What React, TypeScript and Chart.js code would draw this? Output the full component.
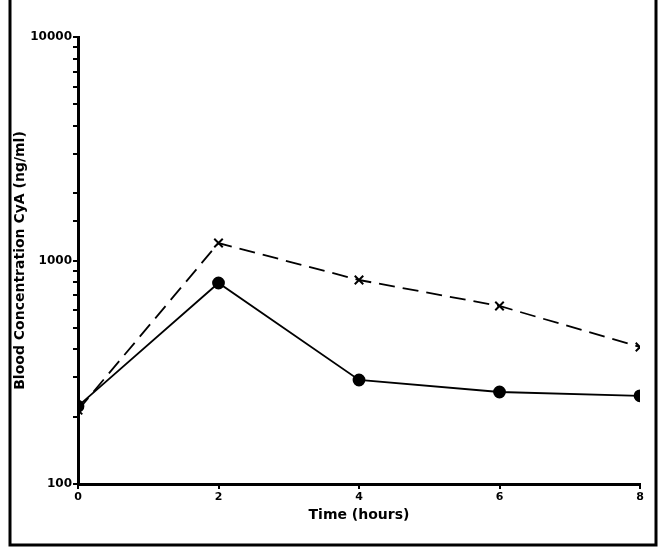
import React, { useEffect, useRef } from "react";
import { Chart, registerables } from "chart.js";
Chart.register(...registerables);

const times = [0, 2, 4, 6, 8];
const crossSeries = [214, 1197, 818, 626, 410];
const dotSeries = [223, 793, 292, 258, 248];
const yLabeledTicks = [100, 1000, 10000];
const xTickValues = [0, 2, 4, 6, 8];

const FONT = "'DejaVu Sans', sans-serif";

const framePlugin = {
  id: "frame",
  beforeDraw(chart: any) {
    const ctx = chart.ctx;
    ctx.save();
    ctx.fillStyle = "#ffffff";
    ctx.fillRect(0, 0, chart.width, chart.height);
    ctx.strokeStyle = "#000";
    ctx.lineWidth = 3;
    ctx.beginPath();
    ctx.moveTo(10, 0);
    ctx.lineTo(10, 545);
    ctx.lineTo(656, 545);
    ctx.lineTo(656, 0);
    ctx.stroke();
    ctx.restore();
  },
};

export default function App() {
  const ref = useRef<HTMLCanvasElement>(null);
  useEffect(() => {
    const chart = new Chart(ref.current!, {
      type: "line",
      data: {
        datasets: [
          {
            label: "x",
            data: times.map((t, i) => ({ x: t, y: crossSeries[i] })),
            borderColor: "#000",
            backgroundColor: "#000",
            borderWidth: 1.8,
            borderDash: [16, 8],
            pointStyle: "crossRot",
            pointRadius: 6,
            pointBorderWidth: 2,
            tension: 0,
          },
          {
            label: "dot",
            data: times.map((t, i) => ({ x: t, y: dotSeries[i] })),
            borderColor: "#000",
            backgroundColor: "#000",
            borderWidth: 1.8,
            pointStyle: "circle",
            pointRadius: 5.5,
            tension: 0,
          },
        ],
      },
      options: {
        animation: false,
        responsive: false,
        layout: { padding: { top: 37, right: 23, left: 12, bottom: 33 } },
        plugins: { legend: { display: false }, tooltip: { enabled: false } },
        scales: {
          x: {
            type: "linear",
            min: 0,
            max: 8,
            afterBuildTicks: (s: any) => {
              s.ticks = xTickValues.map((v) => ({ value: v }));
            },
            afterFit: (s: any) => {
              s.height = 40;
            },
            border: { display: true, color: "#000", width: 3 },
            grid: { display: true, drawOnChartArea: false, drawTicks: true, tickLength: 5, color: "#000", lineWidth: 2 },
            ticks: { color: "#000", font: { family: FONT, size: 11, weight: "bold" }, padding: 2 },
            title: {
              display: true,
              text: "Time (hours)",
              color: "#000",
              font: { family: FONT, size: 14, weight: "bold" },
              padding: { top: 2, bottom: 0 },
            },
          },
          y: {
            type: "logarithmic",
            min: 100,
            max: 10000,
            afterFit: (s: any) => {
              s.width = 66;
            },
            border: { display: true, color: "#000", width: 3 },
            grid: { display: true, drawOnChartArea: false, drawTicks: true, tickLength: 5, color: "#000", lineWidth: 2 },
            ticks: {
              color: "#000",
              font: { family: FONT, size: 12, weight: "bold" },
              padding: 1,
              autoSkip: false,
              callback: (v: any) => (yLabeledTicks.includes(Number(v)) ? String(v) : ""),
            },
            title: {
              display: true,
              text: "Blood Concentration CyA (ng/ml)",
              color: "#000",
              font: { family: FONT, size: 14, weight: "bold" },
              padding: { bottom: 0, top: 0 },
            },
          },
        },
      },
      plugins: [framePlugin],
    } as any);
    return () => chart.destroy();
  }, []);
  return (
    <div style={{ position: "fixed", left: 0, top: 0, width: 663, height: 557, background: "#fff" }}>
      <canvas ref={ref} width={663} height={557} />
    </div>
  );
}
